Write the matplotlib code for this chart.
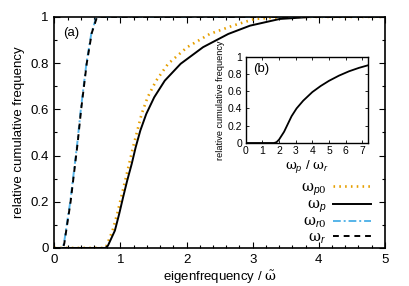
import matplotlib
matplotlib.use('Agg')
from matplotlib import pyplot as plt
from matplotlib import ticker

plt.rcParams['font.family'] = ['Liberation Sans', 'DejaVu Sans']
plt.rcParams['mathtext.fontset'] = 'custom'
plt.rcParams['mathtext.rm'] = 'DejaVu Serif'
plt.rcParams['mathtext.it'] = 'Liberation Sans:italic'
plt.rcParams['mathtext.bf'] = 'Liberation Sans:bold'

# main panel (a): cumulative distributions
x_p0 = [0, 0.75, 0.79, 0.88, 0.95, 1.07, 1.19, 1.32, 1.41, 1.54, 1.72, 2.01, 2.35, 2.70, 3.03, 3.5, 5.0]
y_p0 = [0, 0, 0.01, 0.075, 0.147, 0.29, 0.436, 0.58, 0.652, 0.724, 0.797, 0.869, 0.926, 0.962, 0.991, 1.0, 1.0]
x_p = [0, 0.77, 0.81, 0.915, 0.98, 1.04, 1.10, 1.17, 1.23, 1.30, 1.39, 1.51, 1.67, 1.91, 2.25, 2.63, 2.96, 3.41, 3.9, 5.0]
y_p = [0, 0, 0.01, 0.075, 0.147, 0.22, 0.29, 0.364, 0.436, 0.508, 0.58, 0.652, 0.724, 0.797, 0.869, 0.926, 0.962, 0.991, 1.0, 1.0]
x_r0 = [0, 0.125, 0.145, 0.24, 0.345, 0.40, 0.485, 0.56, 0.635, 5.0]
y_r0 = [0, 0, 0.02, 0.2, 0.45, 0.6, 0.8, 0.93, 1.0, 1.0]
x_r = [0, 0.13, 0.15, 0.245, 0.35, 0.405, 0.49, 0.565, 0.645, 5.0]
y_r = [0, 0, 0.02, 0.2, 0.45, 0.6, 0.8, 0.93, 1.0, 1.0]

# inset panel (b): ratio distribution
x_ratio = [0, 1.7, 1.85, 2.0, 2.3, 2.75, 3.05, 3.45, 4.0, 4.5, 5.0, 5.6, 6.2, 6.8, 7.35]
y_ratio = [0, 0, 0.01, 0.04, 0.13, 0.31, 0.40, 0.49, 0.59, 0.66, 0.72, 0.78, 0.83, 0.87, 0.90]

labels = ['$\\mathrm{ω}_{\\mathit{p0}}$', '$\\mathrm{ω}_{\\mathit{p}}$',
          '$\\mathrm{ω}_{\\mathit{r0}}$', '$\\mathrm{ω}_{\\mathit{r}}$']

fig = plt.figure(figsize=(4.09, 2.86), dpi=100)
ax = fig.add_axes([0.133, 0.133, 0.808, 0.808])

ax.plot(x_p0, y_p0, color='#E69F00', linestyle=(0, (0.6, 1.6)), linewidth=1.9, label=labels[0])
ax.plot(x_p, y_p, color='k', linestyle='-', linewidth=1.4, label=labels[1])
ax.plot(x_r0, y_r0, color='#56B4E9', linestyle=(0, (4, 1.5, 1, 1.5)), linewidth=1.4, label=labels[2])
ax.plot(x_r, y_r, color='k', linestyle=(0, (3, 2.5)), linewidth=1.4, label=labels[3])

ax.set_xlim(0, 5)
ax.set_ylim(0, 1)
ax.xaxis.set_major_locator(ticker.MultipleLocator(1))
ax.xaxis.set_minor_locator(ticker.MultipleLocator(0.2))
ax.yaxis.set_major_locator(ticker.MultipleLocator(0.2))
ax.yaxis.set_minor_locator(ticker.MultipleLocator(0.1))
ax.yaxis.set_major_formatter(ticker.FuncFormatter(lambda v, p: '%g' % round(v, 2)))
ax.tick_params(which='both', direction='in', top=True, right=True, labelsize=9.5, width=0.8)
ax.tick_params(which='major', length=4, pad=4)
ax.tick_params(which='minor', length=2.5)
for s in ax.spines.values():
    s.set_linewidth(1.2)
ax.set_xlabel('eigenfrequency / $\\tilde{\\mathrm{ω}}$', fontsize=9.5, labelpad=2)
ax.set_ylabel('relative cumulative frequency', fontsize=9.5, labelpad=4)
ax.text(0.025, 0.93, '(a)', transform=ax.transAxes, fontsize=9.5, va='center')

ax.legend(loc='lower right', bbox_to_anchor=(0.99, -0.035), markerfirst=False, frameon=False,
          fontsize=10.5, handlelength=2.6, handletextpad=0.5, labelspacing=0.0, borderpad=0.2)

# inset
ins = fig.add_axes([0.601, 0.5, 0.299, 0.302])
ins.plot(x_ratio, y_ratio, color='k', linewidth=1.3)
ins.set_xlim(0, 7.35)
ins.set_ylim(0, 1)
ins.xaxis.set_major_locator(ticker.MultipleLocator(1))
ins.yaxis.set_major_locator(ticker.MultipleLocator(0.2))
ins.yaxis.set_major_formatter(ticker.FuncFormatter(lambda v, p: '%g' % round(v, 2)))
ins.tick_params(which='both', direction='in', top=True, right=True, labelsize=7.5, length=2.5, width=0.6, pad=2.5)
for s in ins.spines.values():
    s.set_linewidth(1.0)
ins.set_xlabel('$\\mathrm{ω}_{\\mathit{p}}$ / $\\mathrm{ω}_{\\mathit{r}}$', fontsize=9.5, labelpad=1)
ins.set_ylabel('relative cumulative frequency', fontsize=6.6, labelpad=2)
ins.text(0.06, 0.86, '(b)', transform=ins.transAxes, fontsize=9.5, va='center')

fig.savefig('out.png', dpi=100)
